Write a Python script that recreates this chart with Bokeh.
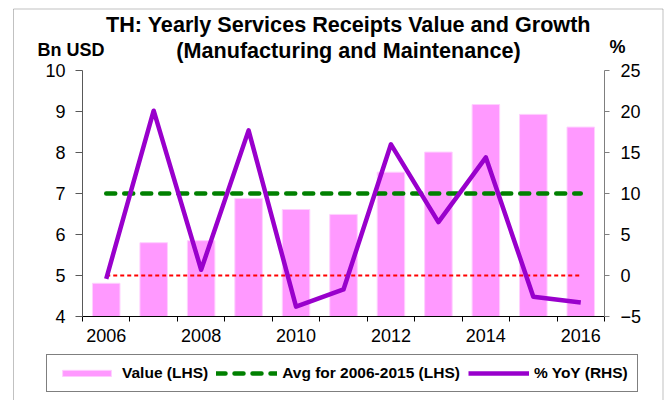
from bokeh.plotting import figure
from bokeh.models import (Range1d, LinearAxis, FixedTicker, Legend, LegendItem,
                          Label, BoxAnnotation)
from bokeh.embed import file_html
from bokeh.resources import INLINE

# ---- data ----
years = [2006, 2007, 2008, 2009, 2010, 2011, 2012, 2013, 2014, 2015, 2016]
value_bn_usd = [4.81, 5.80, 5.85, 6.88, 6.61, 6.49, 7.52, 8.01, 9.17, 8.93, 8.62]
yoy_pct = [-0.4, 20.1, 0.7, 17.7, -3.8, -1.7, 16.0, 6.5, 14.4, -2.6, -3.3]
avg_2006_2015 = 7.0
zero_ref_pct = 0.0
left_ticks = [4, 5, 6, 7, 8, 9, 10]
right_ticks = [-5, 0, 5, 10, 15, 20, 25]
x_tick_years = [2006, 2008, 2010, 2012, 2014, 2016]
category_edges = [2005.5, 2006.5, 2007.5, 2008.5, 2009.5, 2010.5,
                  2011.5, 2012.5, 2013.5, 2014.5, 2015.5, 2016.5]

FONT = "Liberation Sans"

# ---- layout (pixels) ----
W, H = 665, 400
PL, PR, PT, PB = 82, 604, 70, 316          # plot-area edges in canvas pixels
x_lo, x_hi = category_edges[0], category_edges[-1]
yl_lo, yl_hi = left_ticks[0], left_ticks[-1]
yr_lo, yr_hi = right_ticks[0], right_ticks[-1]

sx = (PR - PL) / (x_hi - x_lo)
syl = (PB - PT) / (yl_hi - yl_lo)
syr = (PB - PT) / (yr_hi - yr_lo)

def xd(px):
    return x_lo + (px - PL) / sx

def yd(py):
    return yl_hi + (PT - py) / syl

x_range = Range1d(xd(0), xd(W))
y_range = Range1d(yd(H), yd(0))
yr_range = Range1d(yr_lo - (H - PB) / syr, yr_hi + PT / syr)

p = figure(width=W, height=H, x_range=x_range, y_range=y_range,
           x_axis_location=None, y_axis_location=None,
           output_backend="svg", toolbar_location=None,
           min_border=0, min_border_left=0, min_border_right=0,
           min_border_top=0, min_border_bottom=0)
p.extra_y_ranges = {"pct": yr_range}
p.grid.visible = False
p.outline_line_color = None
p.background_fill_color = "white"
p.border_fill_color = "white"

TICK_FONT_SIZE = "18px"

# bottom axis
xa = LinearAxis(ticker=FixedTicker(ticks=x_tick_years, minor_ticks=category_edges),
                fixed_location=yl_lo, bounds=(x_lo, x_hi))
xa.axis_line_color = "black"
xa.major_tick_line_color = None
xa.major_tick_out = 5
xa.major_tick_in = 0
xa.minor_tick_line_color = "black"
xa.minor_tick_out = 5
xa.minor_tick_in = 0
xa.major_label_standoff = 7
xa.major_label_text_font = FONT
xa.major_label_text_font_size = TICK_FONT_SIZE
xa.major_label_text_color = "black"
p.add_layout(xa, "below")

# left axis
ya = LinearAxis(ticker=FixedTicker(ticks=left_ticks, minor_ticks=[]),
                fixed_location=x_lo, bounds=(yl_lo, yl_hi))
ya.axis_line_color = "#595959"
ya.major_tick_line_color = "#595959"
ya.major_tick_out = 7
ya.major_tick_in = 0
ya.major_label_standoff = 10
ya.major_label_text_font = FONT
ya.major_label_text_font_size = TICK_FONT_SIZE
ya.major_label_text_color = "black"
p.add_layout(ya, "left")

# right axis
ra = LinearAxis(y_range_name="pct", ticker=FixedTicker(ticks=right_ticks, minor_ticks=[]),
                fixed_location=x_hi, bounds=(yr_lo, yr_hi))
ra.axis_line_color = "#7f7f7f"
ra.major_tick_line_color = "#7f7f7f"
ra.major_tick_out = 5
ra.major_tick_in = 0
ra.major_label_standoff = 11
ra.major_label_text_font = FONT
ra.major_label_text_font_size = TICK_FONT_SIZE
ra.major_label_text_color = "black"
p.add_layout(ra, "right")

# marks
bars = p.vbar(x=years, top=value_bn_usd, bottom=yl_lo, width=0.58,
              fill_color="#FF99FF", line_color="#FFD0FF", line_width=1)
p.line(x=[years[0], years[-1]], y=[zero_ref_pct, zero_ref_pct], y_range_name="pct",
       line_color="#FF0000", line_width=2, line_dash="4 3")
avg_line = p.line(x=[years[0], years[-1]], y=[avg_2006_2015, avg_2006_2015],
                  line_color="#008000", line_width=4.5, line_dash="9 9",
                  line_cap="round")
yoy_line = p.line(x=years, y=yoy_pct, y_range_name="pct",
                  line_color="#9900CC", line_width=4.5, line_join="round")

legend = Legend(items=[
    LegendItem(label="Value (LHS)", renderers=[bars]),
    LegendItem(label="Avg for 2006-2015 (LHS)", renderers=[avg_line]),
    LegendItem(label="% YoY (RHS)", renderers=[yoy_line]),
], orientation="horizontal", location=(46, H - 392))
legend.border_line_color = "black"
legend.border_line_width = 1
legend.background_fill_color = "white"
legend.background_fill_alpha = 1
legend.padding = 9
legend.spacing = 8
legend.margin = 0
legend.label_standoff = 5
legend.glyph_width = 61
legend.glyph_height = 8
legend.label_height = 16
legend.label_text_font = FONT
legend.label_text_font_size = "15.5px"
legend.label_text_font_style = "bold"
legend.label_text_color = "black"
legend.label_text_baseline = "middle"
p.add_layout(legend, "center")

# titles and axis captions (positions are visual centres in canvas pixels)
def add_text(px, py, text, size, align):
    p.add_layout(Label(x=xd(px), y=yd(py), text=text, text_font=FONT,
                       text_font_size=size, text_font_style="bold",
                       text_align=align, text_baseline="middle",
                       text_color="black"))

add_text(348, 24, "TH: Yearly Services Receipts Value and Growth", "21.6px", "center")
add_text(348, 50, "(Manufacturing and Maintenance)", "21.6px", "center")
add_text(37, 49, "Bn USD", "18px", "left")
add_text(609, 46, "%", "18px", "left")

# outer chart box
p.add_layout(BoxAnnotation(left=xd(13), right=xd(662.5), top=yd(8.5), bottom=yd(H + 20),
                           fill_color=None, fill_alpha=0,
                           line_color="#333333", line_width=1))

open("out.html", "w").write(file_html(p, INLINE))
